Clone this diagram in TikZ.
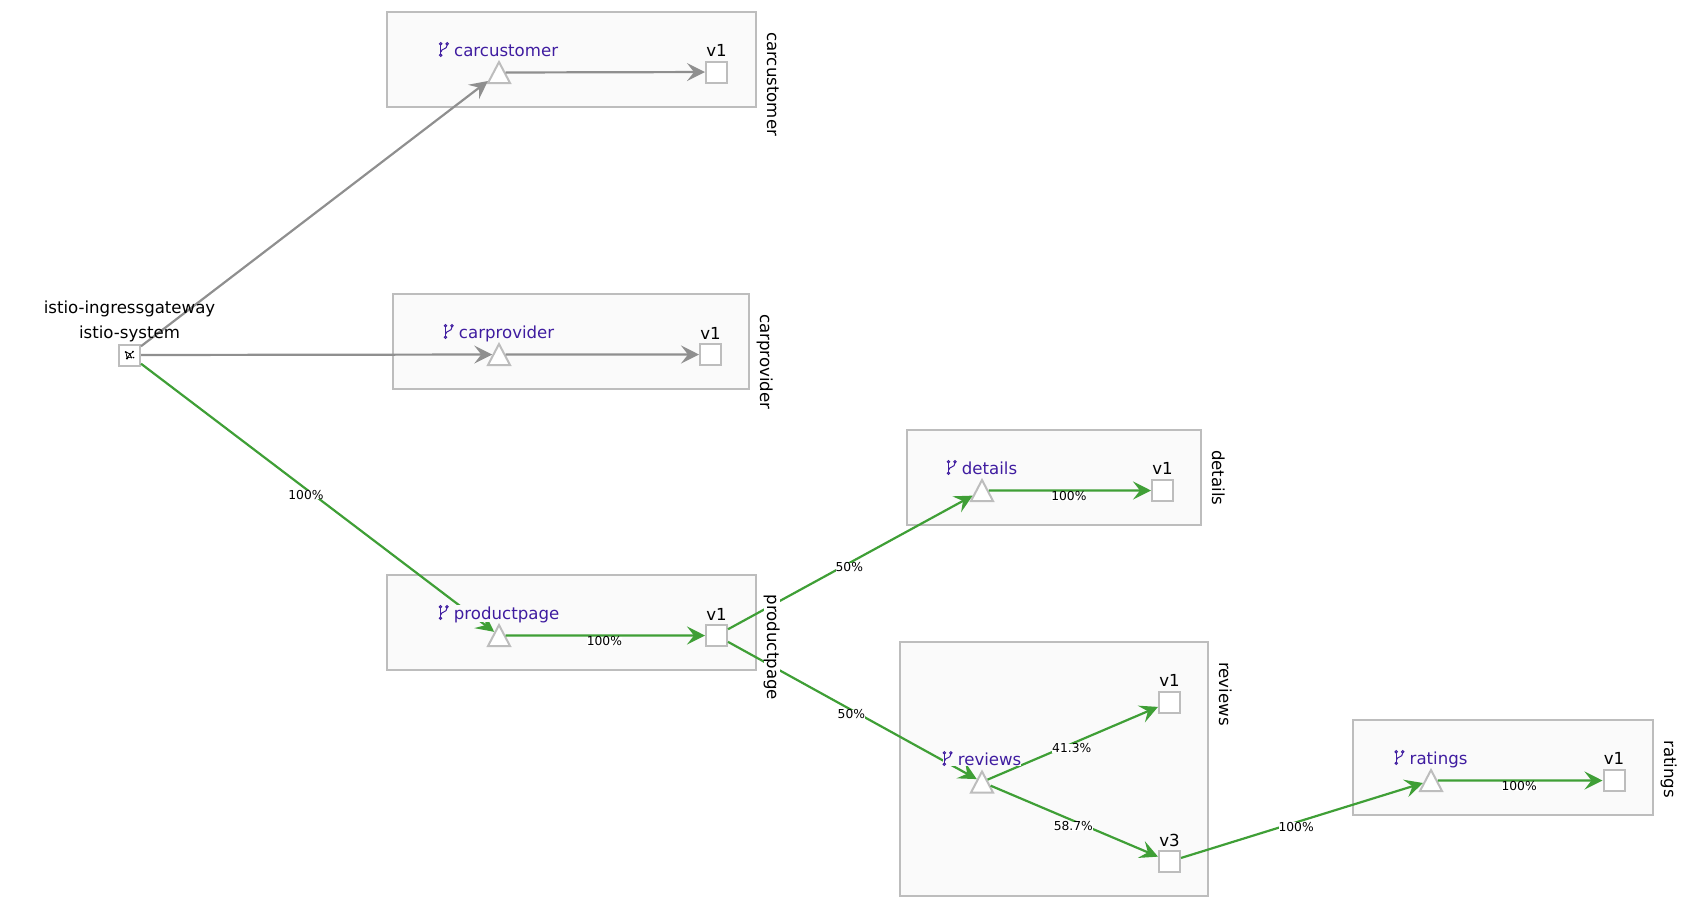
\documentclass[tikz,border=0pt]{standalone}
\usepackage{fontspec}
\setmainfont{DejaVu Sans}
\usetikzlibrary{shapes.geometric, arrows.meta}
\definecolor{edgegreen}{HTML}{3F9F36}
\definecolor{edgegray}{HTML}{8F8F8F}
\definecolor{nodegray}{HTML}{BDBDBD}
\definecolor{boxfill}{HTML}{FAFAFA}
\definecolor{svcpurple}{HTML}{3F1CA0}
\tikzstyle{nsbox} = [rectangle, draw=nodegray, line width=2pt, fill=boxfill, inner sep=0pt]
\tikzstyle{squ} = [rectangle, draw=nodegray, line width=2pt, fill=white, minimum size=21pt, inner sep=0pt]
\tikzstyle{tri} = [isosceles triangle, isosceles triangle stretches, shape border rotate=90, draw=nodegray, line width=2pt, fill=white, minimum width=22pt, minimum height=21pt, text height=21pt, text depth=0pt, text width=0pt, inner sep=0pt]
\tikzstyle{arrow} = [line width=2.2pt,-{Stealth[length=18pt,width=18pt,inset=7pt]}]
\tikzstyle{okarrow} = [arrow, draw=edgegreen]
\tikzstyle{idlearrow} = [arrow, draw=edgegray]
\tikzstyle{nslabel} = [anchor=base west, rotate=-90, fill=white, inner sep=0pt, font=\fontsize{16.6}{18}\selectfont]
\tikzstyle{vlabel} = [anchor=base, inner sep=0pt, font=\fontsize{16.6}{18}\selectfont]
\tikzstyle{svclabel} = [anchor=base, fill=boxfill, text=svcpurple, inner sep=0pt, font=\fontsize{16.6}{18}\selectfont]
\tikzstyle{gwlabel} = [anchor=base, inner sep=0pt, font=\fontsize{16.6}{18}\selectfont]
\tikzstyle{pct} = [fill=white, inner sep=0pt, xshift=-1pt, yshift=-5pt, font=\fontsize{12.3}{13}\selectfont]
\newcommand{\branchicon}{\tikz[x=1pt,y=-1pt,baseline={(0,13)},line width=1pt,svcpurple]{
  \draw (0.5,2) -- (0.5,11);
  \draw (7,2) .. controls (7,7) and (1,5) .. (0.8,9);
  \draw (0.5,0.8) circle (1.2);
  \draw (7,0.8) circle (1.2);
  \draw (0.5,12.2) circle (1.2);
}}
\newcommand{\gwicon}{\tikz[x=1pt,y=-1pt,line width=.7pt]{
  \draw (-3,-3) -- (1,-1) -- (4,-3) (1,-1) -- (2,2) -- (-2,3) -- (-3,-3) (-2,3) -- (1,-1);
  \fill (-3.4,-3) circle (1) (4,-3.4) circle (1.1) (-2,3.4) circle (1.1) (2.4,2.4) circle (1) (4.6,2.6) circle (.8) (1,-1) circle (.8);
}}

\begin{document}
\begin{tikzpicture}[x=1pt,y=-1pt]
        \useasboundingbox (0,0) rectangle (1694,898);

        % namespace boxes
        \node (boxcc) [nsbox, minimum width=369pt, minimum height=95pt] at (571.5,59.5) {};
        \node (boxcp) [nsbox, minimum width=356pt, minimum height=95pt] at (571,341.5) {};
        \node (boxpp) [nsbox, minimum width=369pt, minimum height=95pt] at (571.5,622) {};
        \node (boxdt) [nsbox, minimum width=294pt, minimum height=95pt] at (1054,477.5) {};
        \node (boxrv) [nsbox, minimum width=308pt, minimum height=254pt] at (1054,769) {};
        \node (boxrt) [nsbox, minimum width=300pt, minimum height=95pt] at (1503,767.5) {};

        % gateway
        \node (gw) [squ] at (129.5,355) {\gwicon};

        % services and workloads
        \node (tricc) [tri] at (499,72.5) {};
        \node (sqcc) [squ] at (716.5,72) {};
        \node (tricp) [tri] at (499,354.5) {};
        \node (sqcp) [squ] at (710.5,354.5) {};
        \node (tripp) [tri] at (499,635.5) {};
        \node (sqpp) [squ] at (716.5,635.5) {};
        \node (tridt) [tri] at (982,490.5) {};
        \node (sqdt) [squ] at (1162.5,490.5) {};
        \node (trirv) [tri] at (982,782) {};
        \node (sqrva) [squ] at (1169.5,702) {};
        \node (sqrvb) [squ] at (1169.5,861.5) {};
        \node (trirt) [tri] at (1431,780.5) {};
        \node (sqrt) [squ] at (1614,780.5) {};

        % edges
        \draw [idlearrow] (gw) -- (tricc);
        \draw [idlearrow] (tricc) -- (sqcc);
        \draw [idlearrow] (gw) -- (tricp);
        \draw [idlearrow] (tricp) -- (sqcp);
        \draw [okarrow] (gw) -- node[pct, pos=.47] {100\%} (tripp);
        \draw [okarrow] (tripp) -- node[pct, yshift=-1pt] {100\%} (sqpp);
        \draw [okarrow] (sqpp) -- node[pct] {50\%} (tridt);
        \draw [okarrow] (tridt) -- node[pct, yshift=-1pt] {100\%} (sqdt);
        \draw [okarrow] (sqpp) -- node[pct, yshift=1pt] {50\%} (trirv);
        \draw [okarrow] (trirv) -- node[pct] {41.3\%} (sqrva);
        \draw [okarrow] (trirv) -- node[pct] {58.7\%} (sqrvb);
        \draw [okarrow] (sqrvb) -- node[pct, pos=.48] {100\%} (trirt);
        \draw [okarrow] (trirt) -- node[pct, yshift=-1pt] {100\%} (sqrt);

        % labels
        \node (gwname) [gwlabel] at (129.5,313) {istio-ingressgateway};
        \node (gwns) [gwlabel] at (129.5,338) {istio-system};

        \node (svccc) [svclabel] at (498.5,56) {\branchicon\ carcustomer};
        \node (svccp) [svclabel] at (499,338) {\branchicon\ carprovider};
        \node (svcpp) [svclabel] at (499,619) {\branchicon\ productpage};
        \node (svcdt) [svclabel] at (982,474) {\branchicon\ details};
        \node (svcrv) [svclabel] at (982,765) {\branchicon\ reviews};
        \node (svcrt) [svclabel] at (1431,764) {\branchicon\ ratings};

        \node (vcc) [vlabel] at (716.5,56) {v1};
        \node (vcp) [vlabel] at (710.5,339) {v1};
        \node (vpp) [vlabel] at (716.5,620) {v1};
        \node (vdt) [vlabel] at (1162.5,474.5) {v1};
        \node (vrva) [vlabel] at (1169.5,686) {v1};
        \node (vrvb) [vlabel] at (1169.5,846) {v3};
        \node (vrt) [vlabel] at (1614,764.5) {v1};

        \node (nscc) [nslabel] at ([xshift=10pt,yshift=-21pt]boxcc.north east) {carcustomer};
        \node (nscp) [nslabel] at ([xshift=10pt,yshift=-21pt]boxcp.north east) {carprovider};
        \node (nspp) [nslabel] at ([xshift=10pt,yshift=-21pt]boxpp.north east) {productpage};
        \node (nsdt) [nslabel] at ([xshift=10pt,yshift=-21pt]boxdt.north east) {details};
        \node (nsrv) [nslabel] at ([xshift=10pt,yshift=-21pt]boxrv.north east) {reviews};
        \node (nsrt) [nslabel] at ([xshift=10pt,yshift=-21pt]boxrt.north east) {ratings};
\end{tikzpicture}
\end{document}
